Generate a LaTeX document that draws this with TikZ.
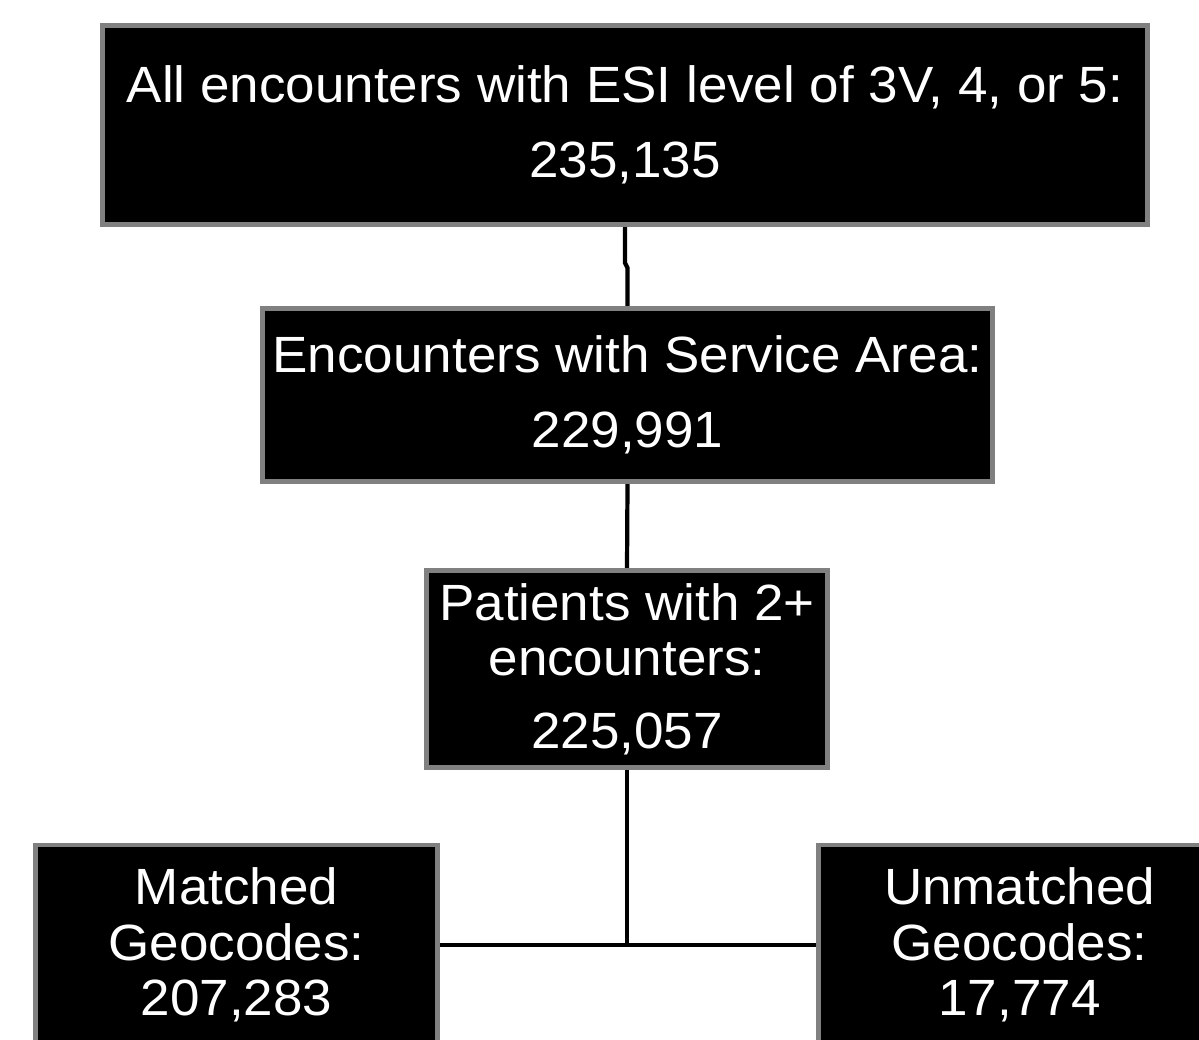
\documentclass[tikz,border=0pt]{standalone}
\usepackage{fontspec}
\setmainfont[FakeStretch=1.04]{Liberation Sans}
\usetikzlibrary{backgrounds}
\tikzset{
  flowbox/.style={rectangle, fill=black, draw=black!50, line width=2.8pt, text=white,
    align=center, inner sep=0pt, font=\fontsize{29}{31.5}\selectfont},
  link/.style={line width=2.4pt}
}
\begin{document}
\begin{tikzpicture}[x=0.02cm, y=-0.02cm]
\clip (0,0) rectangle (1199,1040);
\node[flowbox, minimum width=20.9cm, minimum height=3.98cm] (enc0) at (625,125){All encounters with ESI level of 3V, 4, or 5:\\[11pt]235,135};
\node[flowbox, minimum width=14.6cm, minimum height=3.46cm] (enc1) at (627.5,395){Encounters with Service Area:\\[11pt]229,991};
\node[flowbox, minimum width=8.02cm, minimum height=3.94cm] (pat0) at (627,669){Patients with 2+\\encounters:\\[10pt]225,057};
\node[flowbox, minimum width=8.04cm, minimum height=4cm] (geo0) at (236.5,945){Matched\\Geocodes:\\207,283};
\node[flowbox, minimum width=8.04cm, minimum height=4cm] (geo1) at (1019.5,945){Unmatched\\Geocodes:\\17,774};
\begin{scope}[on background layer]
\draw[link](enc0.south) -- ++(0,36) -- ++(2.5,5) |- (enc1.north);
\draw[link](enc1.south) -- (pat0.north);
\draw[link](pat0.south) -- (pat0.south |- geo0.east);
\draw[link](geo0.east) -- (geo1.west);
\end{scope}

\end{tikzpicture}
\end{document}
